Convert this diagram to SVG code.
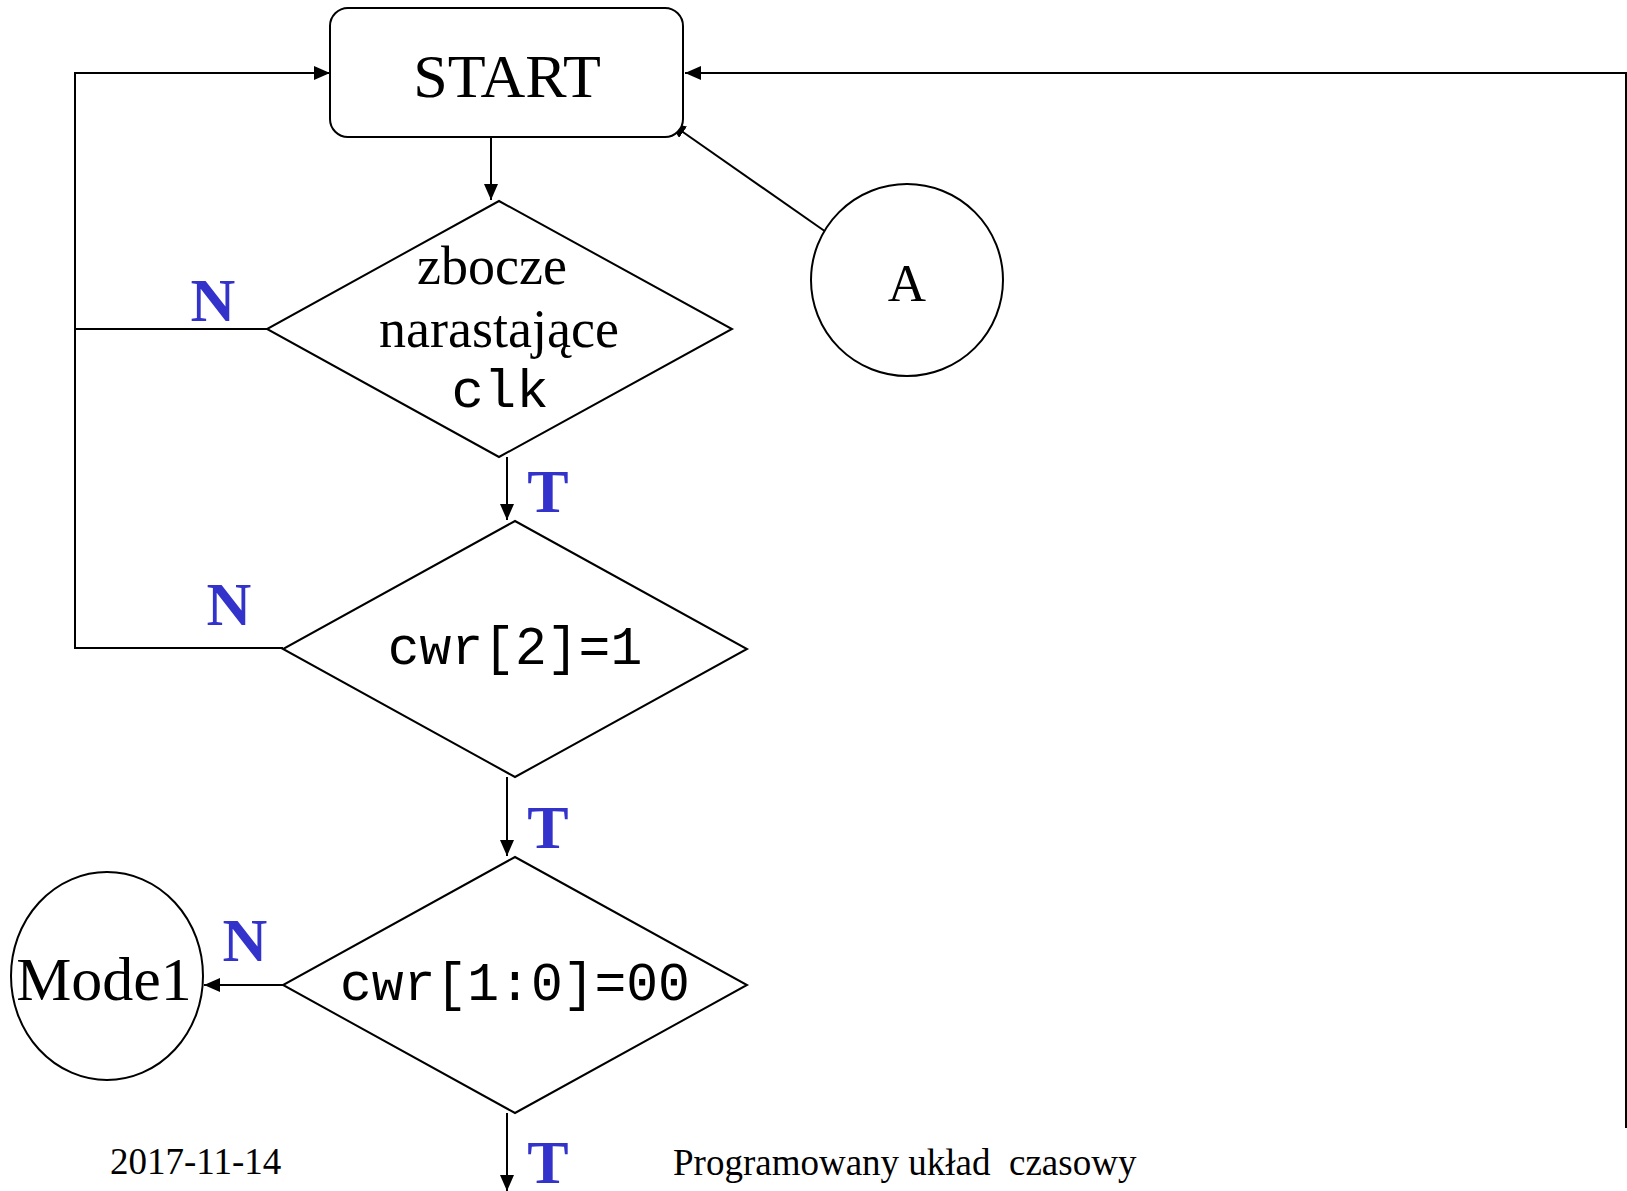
<svg xmlns="http://www.w3.org/2000/svg" width="1627" height="1191" viewBox="0 0 1627 1191">
  <style>
    .shape { fill: #ffffff; stroke: #000000; stroke-width: 2; }
    .wire { fill: none; stroke: #000000; stroke-width: 2; }
    .serif { font-family: "Liberation Serif", "Times New Roman", serif; fill: #000000; }
    .mono { font-family: "Liberation Mono", "Courier New", monospace; fill: #000000; }
    .flag { font-family: "Liberation Serif", "Times New Roman", serif; font-weight: bold; fill: #3333CC; font-size: 62px; }
    .foot { font-family: "Liberation Serif", "Times New Roman", serif; font-size: 37px; fill: #000000; white-space: pre; }
  </style>
  <defs>
    <marker id="arrow" viewBox="0 0 16 14" refX="16" refY="7" markerWidth="16" markerHeight="14" markerUnits="userSpaceOnUse" orient="auto">
      <path d="M0,0 L16,7 L0,14 Z" fill="#000000"/>
    </marker>
  </defs>

  <!-- connectors -->
  <g id="connectors">
    <!-- left return bus into START -->
    <polyline class="wire" points="267,329 75,329"/>
    <polyline class="wire" points="283,648 75,648 75,73 330,73" marker-end="url(#arrow)"/>
    <!-- right return bus into START -->
    <polyline class="wire" points="1626,1128 1626,73 685,73" marker-end="url(#arrow)"/>
    <!-- START to first decision -->
    <line class="wire" x1="491" y1="137" x2="491" y2="200" marker-end="url(#arrow)"/>
    <!-- connector A to START -->
    <line class="wire" x1="826" y1="232" x2="670" y2="123" marker-end="url(#arrow)"/>
    <!-- decision chain -->
    <line class="wire" x1="507" y1="457" x2="507" y2="520" marker-end="url(#arrow)"/>
    <line class="wire" x1="507" y1="777" x2="507" y2="856" marker-end="url(#arrow)"/>
    <line class="wire" x1="283" y1="985" x2="204" y2="985" marker-end="url(#arrow)"/>
    <line class="wire" x1="507" y1="1113" x2="507" y2="1191" marker-end="url(#arrow)"/>

    <!-- branch labels -->
    <text class="flag" x="213" y="321" text-anchor="middle">N</text>
    <text class="flag" x="229" y="625" text-anchor="middle">N</text>
    <text class="flag" x="245" y="961" text-anchor="middle">N</text>
    <text class="flag" x="548" y="512" text-anchor="middle">T</text>
    <text class="flag" x="548" y="848" text-anchor="middle">T</text>
    <text class="flag" x="548" y="1183" text-anchor="middle">T</text>
  </g>

  <!-- START terminal -->
  <g id="start">
    <rect class="shape" x="330" y="8" width="353" height="129" rx="18" ry="18"/>
    <text class="serif" x="507" y="97" font-size="62" text-anchor="middle">START</text>
  </g>

  <!-- connector A -->
  <g id="conn-a">
    <circle class="shape" cx="907" cy="280" r="96"/>
    <text class="serif" x="907" y="301" font-size="53" text-anchor="middle">A</text>
  </g>

  <!-- rising clock edge test -->
  <g id="dec-clk">
    <polygon class="shape" points="499,201 732,329 499,457 267,329"/>
    <text class="serif" x="492" y="284" font-size="54" text-anchor="middle">zbocze</text>
    <text class="serif" x="499" y="347" font-size="54" text-anchor="middle">narastające</text>
    <text class="mono" x="500" y="407" font-size="54" text-anchor="middle">clk</text>
  </g>

  <!-- control word bit 2 test -->
  <g id="dec-cwr2">
    <polygon class="shape" points="515,521 747,649 515,777 283,649"/>
    <text class="mono" x="515" y="664" font-size="53" text-anchor="middle">cwr[2]=1</text>
  </g>

  <!-- control word bits 1:0 test -->
  <g id="dec-cwr10">
    <polygon class="shape" points="515,857 747,985 515,1113 283,985"/>
    <text class="mono" x="515" y="1000" font-size="53" text-anchor="middle">cwr[1:0]=00</text>
  </g>

  <!-- Mode1 connector -->
  <g id="mode1">
    <ellipse class="shape" cx="107" cy="976" rx="96" ry="104"/>
    <text class="serif" x="104" y="1000" font-size="62" text-anchor="middle">Mode1</text>
  </g>

  <!-- footer -->
  <text class="foot" x="110" y="1174">2017-11-14</text>
  <text class="foot" x="673" y="1175">Programowany układ  czasowy</text>
</svg>
